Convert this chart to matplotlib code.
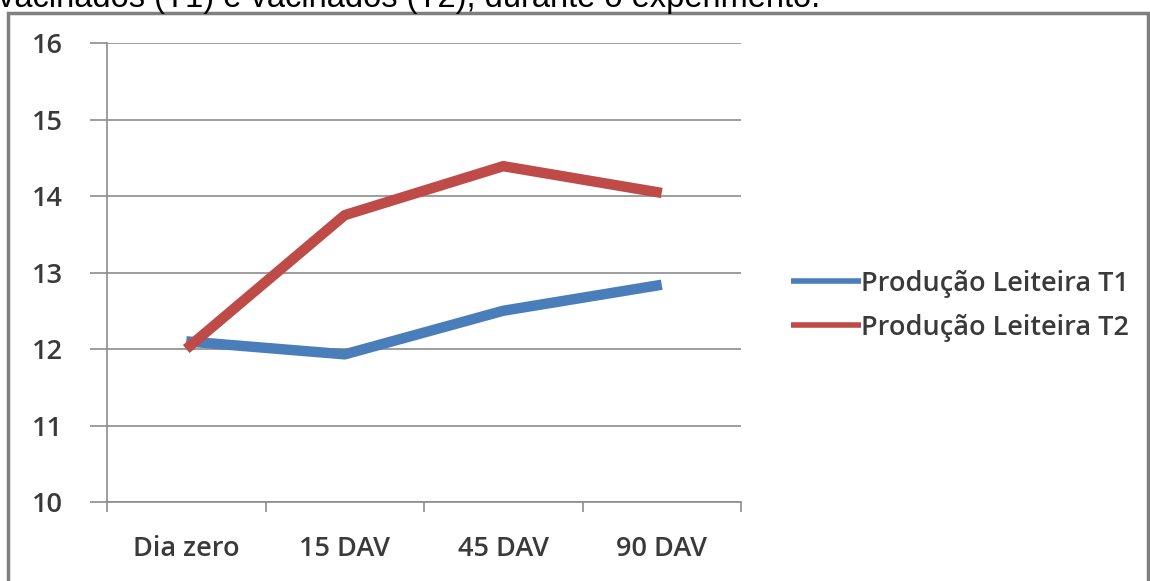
import numpy as np
import matplotlib.pyplot as plt
from matplotlib.patches import Rectangle

categories = ["Dia zero", "15 DAV", "45 DAV", "90 DAV"]
t1 = [12.1, 11.93, 12.5, 12.84]
t2 = [12.0, 13.75, 14.39, 14.04]
labels = ["Produção Leiteira T1", "Produção Leiteira T2"]

fig = plt.figure(figsize=(11.5, 5.81), dpi=100)

# frame of the chart area
fig.patches.append(Rectangle((8 / 1150, -0.01), 1140 / 1150, 1 - 13 / 581 + 0.01,
                             transform=fig.transFigure, fill=False,
                             edgecolor="#7f7f7f", lw=2.5))

# caption cut off at the top of the image
fig.text(-0.002, 1 - 7 / 581, "vacinados (T1) e vacinados (T2), durante o experimento.",
         family="Liberation Sans", fontsize=23.5, color="black", va="baseline")

ax = fig.add_axes([107 / 1150, 1 - 502 / 581, (741 - 107) / 1150, (502 - 43) / 581])

x = np.arange(len(categories))
ax.plot(x, t1, color="#4a7ebb", lw=7.5, solid_capstyle="butt", label=labels[0])
ax.plot(x, t2, color="#be4b48", lw=7.5, solid_capstyle="butt", label=labels[1])

tfont = {"family": "Open Sans", "size": 19.5, "weight": "semibold"}
ax.set_xlim(-0.5, 3.5)
ax.set_ylim(10, 16)
ax.set_yticks(range(10, 17))
ax.set_yticklabels([str(v) for v in range(10, 17)], fontdict=tfont, color="#3a3a3a")
ax.set_xticks(np.arange(-0.5, 4, 1))
ax.set_xticklabels([])
ax.set_xticks(x, minor=True)
ax.set_xticklabels(categories, minor=True, fontdict=tfont, color="#3a3a3a")
ax.tick_params(axis="x", which="minor", length=0, pad=24)
ax.tick_params(axis="x", which="major", length=7, color="#8c8c8c", width=1.2)
ax.tick_params(axis="y", length=12, color="#8c8c8c", width=1.2, pad=20)

ax.grid(axis="y", color="#8c8c8c", lw=1.2)
ax.set_axisbelow(True)
for s in ["top", "right"]:
    ax.spines[s].set_visible(False)
for s in ["left", "bottom"]:
    ax.spines[s].set_color("#8c8c8c")
    ax.spines[s].set_linewidth(1.2)

leg = ax.legend(loc="center left", bbox_to_anchor=(1.061, 0.4275), frameon=False,
                prop=tfont, handlelength=2.6, borderaxespad=0.0,
                handletextpad=0.0, labelspacing=0.6)
for h in leg.get_lines():
    h.set_linewidth(4)
for t in leg.get_texts():
    t.set_color("#3a3a3a")

fig.savefig("out.png", dpi=100)
